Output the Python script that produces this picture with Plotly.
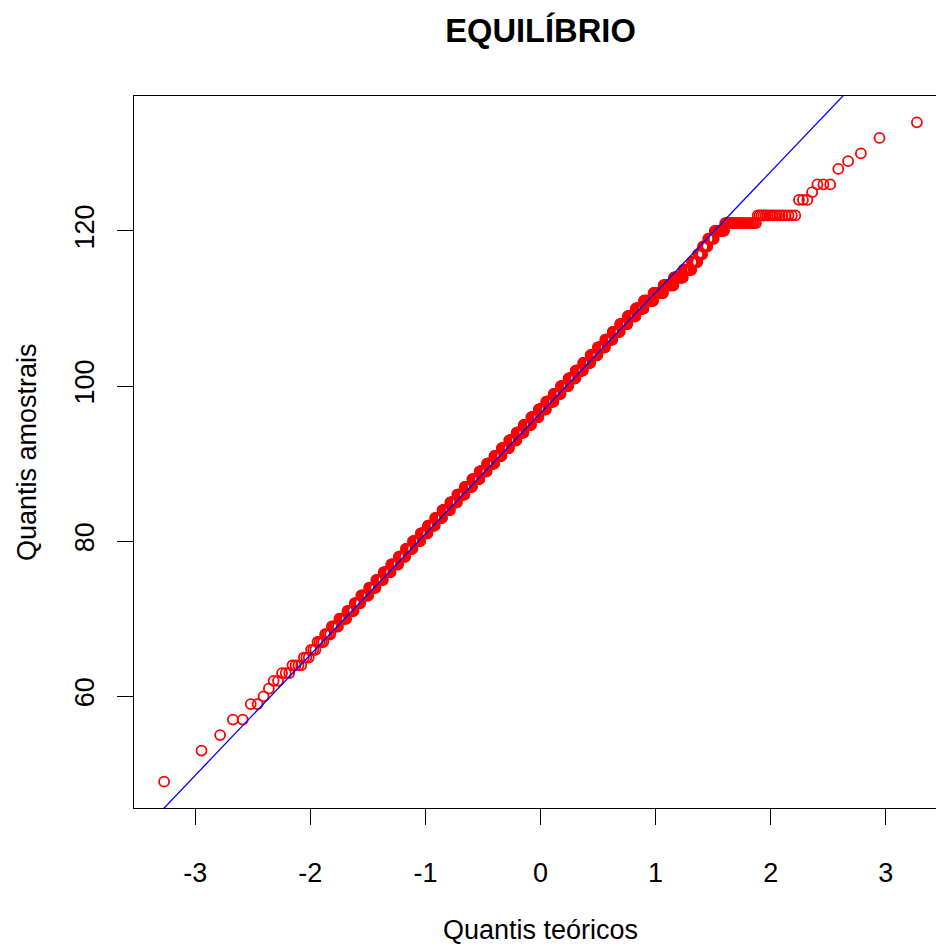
import math
from statistics import NormalDist
import plotly.graph_objects as go

# ---- data (integer sample values and their counts) ----
values = [49, 53, 55, 57, 59, 60, 61, 62, 63, 64, 65, 66, 67, 68, 69, 70, 71, 72, 73, 74,
          75, 76, 77, 78, 79, 80, 81, 82, 83, 84, 85, 86, 87, 88, 89, 90, 91, 92, 93, 94,
          95, 96, 97, 98, 99, 100, 101, 102, 103, 104, 105, 106, 107, 108, 109, 110, 111,
          112, 113, 114, 115, 116, 117, 118, 119, 120, 121, 122, 124, 125, 126, 128, 129,
          130, 132, 134]
counts = [1, 1, 1, 2, 2, 1, 1, 2, 3, 4, 3, 3, 4, 4, 5, 6, 6, 6, 8, 8,
          9, 10, 11, 11, 12, 14, 14, 15, 16, 18, 17, 19, 20, 20, 21, 22, 22, 23, 23, 23,
          24, 24, 24, 24, 23, 24, 22, 23, 22, 21, 21, 20, 19, 19, 19, 18, 20,
          19, 18, 15, 12, 8, 6, 6, 7, 10, 23, 16, 3, 1, 3, 1, 1,
          1, 1, 1]

title_text = "EQUILÍBRIO"
x_title = "Quantis teóricos"
y_title = "Quantis amostrais"
x_tick_vals = [-3, -2, -1, 0, 1, 2, 3]
x_tick_text = ["-3", "-2", "-1", "0", "1", "2", "3"]
y_tick_vals = [60, 80, 100, 120]
y_tick_text = ["60", "80", "100", "120"]

# ---- qqnorm computation ----
sample = []
for v, c in zip(values, counts):
    sample.extend([v] * c)
sample.sort()
n = len(sample)
nd = NormalDist()
a = 3.0 / 8.0 if n <= 10 else 0.5
theo = [nd.inv_cdf((i + 1 - a) / (n + 1 - 2 * a)) for i in range(n)]


def q7(xs, p):
    h = (len(xs) - 1) * p
    lo = int(math.floor(h))
    hi = min(lo + 1, len(xs) - 1)
    return xs[lo] + (h - lo) * (xs[hi] - xs[lo])


# ---- qqline ----
yq = [q7(sample, 0.25), q7(sample, 0.75)]
xq = [nd.inv_cdf(0.25), nd.inv_cdf(0.75)]
slope = (yq[1] - yq[0]) / (xq[1] - xq[0])
intercept = yq[0] - slope * xq[0]

# ---- axis ranges (R style 4% extension; right side cropped by the window) ----
xmin, xmax = min(theo), max(theo)
dx = xmax - xmin
x_lo = xmin - 0.04 * dx
x_hi_full = xmax + 0.04 * dx
ymin, ymax = min(sample), max(sample)
dy = ymax - ymin
y_lo = ymin - 0.04 * dy
y_hi = ymax + 0.04 * dy

W, H = 936, 947
left, top, bottom = 134, 96, 808
full_right = 947  # where the R plot region would end (outside the window)
x_hi = x_lo + (x_hi_full - x_lo) * (W - left) / (full_right - left)

line_x = [x_lo, x_hi]
line_y = [intercept + slope * xv for xv in line_x]

font_family = "Liberation Sans, Arial, Helvetica, sans-serif"

fig = go.Figure()
fig.add_trace(go.Scatter(
    x=theo, y=sample, mode="markers",
    marker=dict(symbol="circle-open", size=10, color="#FF0000",
                line=dict(width=1.8, color="#FF0000")),
    hoverinfo="skip", showlegend=False,
))
fig.add_trace(go.Scatter(
    x=line_x, y=line_y, mode="lines",
    line=dict(color="#0000FF", width=1.3),
    hoverinfo="skip", showlegend=False,
))

plot_w = W - left
cx_paper = ((left + full_right) / 2 - left) / plot_w

fig.update_layout(
    width=W, height=H,
    margin=dict(l=left, r=0, t=top, b=H - bottom, pad=0),
    paper_bgcolor="white", plot_bgcolor="white",
    font=dict(family=font_family, size=27, color="black"),
    title=dict(text="<b>" + title_text + "</b>", font=dict(size=32.7, color="black"),
               x=cx_paper, xref="paper", xanchor="center",
               y=1 - 31 / H, yref="container", yanchor="middle"),
    xaxis=dict(range=[x_lo, x_hi], tickmode="array", tickvals=x_tick_vals,
               ticktext=x_tick_text, ticks="outside", ticklen=16, tickwidth=1.2,
               tickcolor="black", showline=True, linecolor="black", linewidth=1.2,
               mirror=True, showgrid=False, zeroline=False,
               ticklabelstandoff=24, tickfont=dict(size=27)),
    yaxis=dict(range=[y_lo, y_hi], tickmode="array", tickvals=y_tick_vals,
               ticktext=y_tick_text, ticks="outside", ticklen=16, tickwidth=1.2,
               tickcolor="black", showline=True, linecolor="black", linewidth=1.2,
               mirror=False, showgrid=False, zeroline=False, tickangle=-90,
               ticklabelstandoff=12, tickfont=dict(size=27)),
    annotations=[
        dict(text=x_title, xref="paper", yref="paper", x=cx_paper,
             y=-(930 - bottom) / (bottom - top), xanchor="center", yanchor="middle",
             showarrow=False, font=dict(size=27)),
        dict(text=y_title, xref="paper", yref="paper", x=-(left - 27) / plot_w,
             y=0.5, xanchor="center", yanchor="middle", textangle=-90,
             showarrow=False, font=dict(size=27)),
    ],
)

fig.write_html("out.html")
